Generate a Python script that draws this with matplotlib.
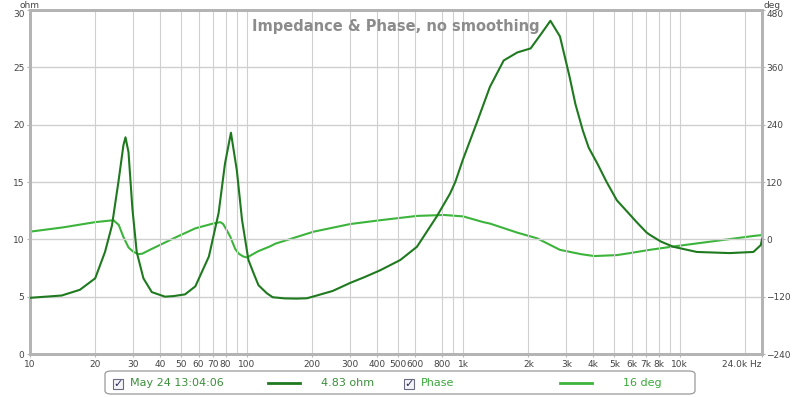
import numpy as np
import matplotlib
matplotlib.use("Agg")
import matplotlib.pyplot as plt
from matplotlib.patches import FancyBboxPatch, Rectangle
from matplotlib.lines import Line2D

# Impedanz (ohm)
imp_freq = [10, 14, 17, 20, 22.2, 23.9, 25.6, 27.0, 27.6, 28.5, 29.7, 31.1, 33.4,
            36.5, 42, 46, 52, 58, 67, 74.3, 79.5, 84.7, 90.2, 95.3, 102, 108,
            113.5, 124, 132, 150, 170, 190, 211, 250, 301, 350, 414, 513, 612,
            756, 871, 920, 1000, 1153, 1330, 1540, 1780, 2050, 2300, 2530, 2800,
            3100, 3300, 3570, 3800, 4170, 4600, 5130, 5860, 6330, 7030, 7270, 8200,
            9350, 12000, 17000, 21900, 23700, 24000]
imp_ohm = [4.9, 5.1, 5.6, 6.6, 8.9, 11.2, 15.0, 18.2, 18.9, 17.6, 12.7, 8.9, 6.6,
           5.4, 5.0, 5.05, 5.2, 5.9, 8.5, 12.3, 16.6, 19.3, 16.0, 11.7, 8.2, 7.0,
           6.0, 5.3, 4.95, 4.85, 4.83, 4.86, 5.1, 5.5, 6.2, 6.7, 7.3, 8.2, 9.35,
           12.0, 14.0, 15.0, 17.0, 20.1, 23.3, 25.6, 26.3, 26.65, 27.95, 29.06, 27.7,
           24.2, 21.8, 19.5, 18.0, 16.6, 15.0, 13.4, 12.2, 11.5, 10.6, 10.4, 9.8,
           9.35, 8.9, 8.8, 8.9, 9.5, 10.0]

# Phase (deg)
ph_freq = [10, 14.2, 20, 24.3, 25.7, 27, 28.5, 30, 31.6, 33, 36.5, 47, 58, 70,
           75.6, 78, 80.8, 84.2, 88.6, 92, 96.6, 100.5, 102.3, 113, 128, 136, 204,
           301, 414, 612, 816, 1000, 1240, 1330, 1780, 2200, 2800, 3500, 4030,
           5130, 5860, 7270, 9350, 14300, 21900, 24000]
ph_deg = [16, 25, 36, 40, 30, 5, -17, -26, -31, -30, -20, 4, 23, 33,
          36, 32, 20, 5, -20, -30, -36, -38, -36, -25, -15, -9, 16,
          32, 40, 49, 51, 48, 36, 33, 14, 2, -22, -31, -35,
          -33, -29, -22, -15, -4, 7, 9]

x_ticks = [10, 20, 30, 40, 50, 60, 70, 80, 100, 200, 300, 400, 500, 600, 800,
           1000, 2000, 3000, 4000, 5000, 6000, 7000, 8000, 10000, 24000]
x_labels = ["10", "20", "30", "40", "50", "60", "70", "80", "100", "200", "300",
            "400", "500", "600", "800", "1k", "2k", "3k", "4k", "5k", "6k", "7k",
            "8k", "10k", "24.0k Hz"]
x_grid_extra = [90, 900, 9000, 20000]

ohm_ticks = [0, 5, 10, 15, 20, 25, 30]
deg_ticks = [-240, -120, 0, 120, 240, 360, 480]

dark_green = "#1f7a1f"
light_green = "#3cb43c"
grid_col = "#cfcfcf"
frame_col = "#b4b4b4"
txt_col = "#444444"

fig = plt.figure(figsize=(8, 3.97), dpi=100)
ax = fig.add_axes([30/800, 1-354/397, 732/800, 344/397])
ax2 = ax.twinx()

ax.set_xscale("log")
ax.set_xlim(10, 24000)
ax.set_ylim(0, 30)
ax2.set_ylim(-240, 480)

# Gitter
for f in x_ticks[1:-1] + x_grid_extra:
    ax.axvline(f, color=grid_col, lw=0.8, zorder=0)
for v in ohm_ticks[1:-1]:
    ax.axhline(v, color=grid_col, lw=1.0, zorder=0)

# Titel zuerst, Kurven darüber
ax.text(0.5, 0.975, "Impedance & Phase, no smoothing", transform=ax.transAxes,
        ha="center", va="top", fontsize=10.5, fontweight="bold", color="#8c8c8c",
        zorder=1)

ax.set_zorder(2)
ax2.set_zorder(1)
ax.patch.set_visible(False)
ax.plot(imp_freq, imp_ohm, color=dark_green, lw=1.5, zorder=3)
ax2.plot(ph_freq, ph_deg, color=light_green, lw=1.5, zorder=2)

ax.set_xticks(x_ticks)
ax.set_xticklabels(x_labels)
ax.xaxis.set_minor_locator(matplotlib.ticker.NullLocator())
ax.set_yticks(ohm_ticks)
ax2.set_yticks(deg_ticks)
ax.tick_params(axis="both", length=2, color=frame_col, labelsize=6.5,
               labelcolor=txt_col, pad=2)
ax2.tick_params(axis="y", length=2, color=frame_col, labelsize=6.5,
                labelcolor=txt_col, pad=1)
ax.get_xticklabels()[-1].set_horizontalalignment("right")

# oberste Beschriftung etwas nach unten, damit "ohm"/"deg" Platz haben
ax.yaxis.get_major_ticks()[-1].label1.set_verticalalignment("top")
ax2.yaxis.get_major_ticks()[-1].label2.set_verticalalignment("top")

for a in (ax, ax2):
    for s in a.spines.values():
        s.set_color(frame_col)
        s.set_linewidth(2)

fig.text(40/800, 1 - 1/397, "ohm", ha="right", va="top", fontsize=6.5, color=txt_col)
fig.text(764/800, 1 - 1/397, "deg", ha="left", va="top", fontsize=6.5, color=txt_col)

# Legende unten
box = FancyBboxPatch((105/800, 1-394/397), 590/800, 23/397,
                     boxstyle="round,pad=0,rounding_size=0.008",
                     transform=fig.transFigure, facecolor="white",
                     edgecolor="#9a9a9a", lw=0.9)
fig.patches.append(box)

def checkbox(x):
    fig.patches.append(Rectangle((x/800, 1-389/397), 10/800, 10/397,
                                 transform=fig.transFigure, facecolor="#f4f4f8",
                                 edgecolor="#6a6a80", lw=0.8))
    fig.text((x+5)/800, 1-384/397, "✓", ha="center", va="center",
             fontsize=8, color="#2a2a60", fontweight="bold")

ly = 1 - 383/397
checkbox(113)
fig.text(130/800, ly, "May 24 13:04:06", fontsize=8, color="#3a8f3a", va="center")
fig.add_artist(Line2D([268/800, 300/800], [ly, ly], color=dark_green, lw=2,
                      transform=fig.transFigure))
fig.text(321/800, ly, "4.83 ohm", fontsize=8, color="#3a8f3a", va="center")
checkbox(404)
fig.text(421/800, ly, "Phase", fontsize=8, color="#3aa83a", va="center")
fig.add_artist(Line2D([560/800, 592/800], [ly, ly], color=light_green, lw=2,
                      transform=fig.transFigure))
fig.text(623/800, ly, "16 deg", fontsize=8, color="#3aa83a", va="center")

fig.savefig("out.png", dpi=100)
